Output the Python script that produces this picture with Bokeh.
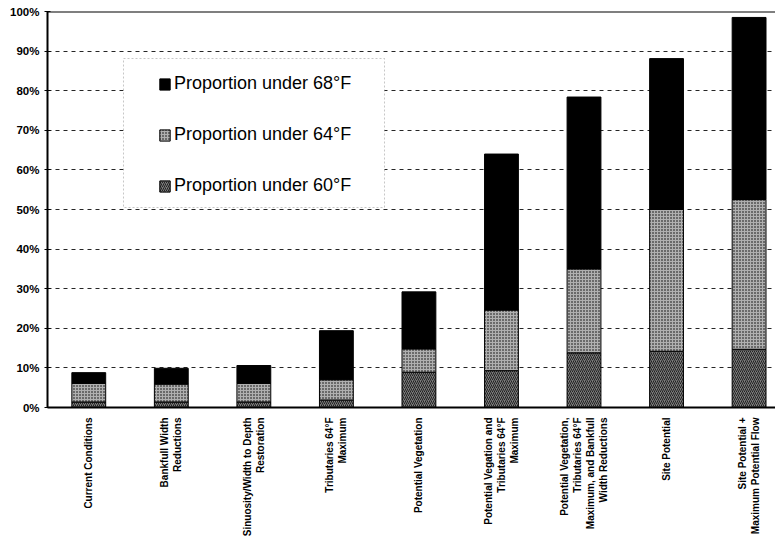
from bokeh.plotting import figure
from bokeh.models import (Range1d, FixedTicker, Legend, LegendItem, ColumnDataSource,
                          Span, BoxAnnotation)
from bokeh.embed import file_html
from bokeh.resources import INLINE
import math

categories = [
    "Current Conditions",
    "Bankfull Width\nReductions",
    "Sinuosity/Width to Depth\nRestoration",
    "Tributaries 64\u00b0F\nMaximum",
    "Potential Vegetation",
    "Potential Vegation and\nTributaries 64\u00b0F\nMaximum",
    "Potential Vegetation,\nTributaries 64\u00b0F\nMaximum, and Bankfull\nWidth Reductions",
    "Site Potential",
    "Site Potential +\nMaximum Potential Flow",
]
under_60 = [0.014, 0.014, 0.014, 0.019, 0.089, 0.093, 0.138, 0.142, 0.147]
under_64 = [0.061, 0.059, 0.061, 0.070, 0.148, 0.246, 0.350, 0.500, 0.525]
under_68 = [0.088, 0.099, 0.106, 0.194, 0.292, 0.640, 0.784, 0.881, 0.985]
y_ticks = [0.0, 0.1, 0.2, 0.3, 0.4, 0.5, 0.6, 0.7, 0.8, 0.9, 1.0]
y_tick_labels = ["0%", "10%", "20%", "30%", "40%", "50%", "60%", "70%", "80%", "90%", "100%"]
legend_labels = ["Proportion under 68\u00b0F", "Proportion under 64\u00b0F", "Proportion under 60\u00b0F"]

xs = [i + 0.5 for i in range(len(categories))]
zeros = [0.0] * len(categories)

p = figure(width=775, height=541, output_backend="svg", toolbar_location=None,
           x_range=Range1d(0, 8.82), y_range=Range1d(0, 1.0),
           min_border_left=47, min_border_right=0, min_border_top=11, min_border_bottom=134)
p.background_fill_color = "white"
p.border_fill_color = "white"
p.outline_line_color = None

src = ColumnDataSource(dict(x=xs, z=zeros, a=under_60, b=under_64, c=under_68))
bw = 0.41
r60 = p.vbar(x="x", bottom="z", top="a", width=bw, source=src, fill_color="#7a7a7a",
             hatch_pattern="right_diagonal_line", hatch_color="#222222", hatch_scale=4,
             hatch_weight=1, line_color="black", line_width=1)
r64 = p.vbar(x="x", bottom="a", top="b", width=bw, source=src, fill_color="#b0b0b0",
             hatch_pattern="dot", hatch_color="black", hatch_scale=3, hatch_weight=1.3,
             line_color="black", line_width=1)
r68 = p.vbar(x="x", bottom="b", top="c", width=bw, source=src, fill_color="black",
             line_color="black", line_width=1)

p.xgrid.visible = False
p.ygrid.ticker = FixedTicker(ticks=y_ticks)
p.ygrid.grid_line_color = "black"
p.ygrid.grid_line_dash = "4 4"
p.ygrid.grid_line_width = 1
p.ygrid.grid_line_alpha = 0.85

p.add_layout(Span(location=1.0, dimension="width", line_color="black", line_width=2))

p.yaxis.ticker = FixedTicker(ticks=y_ticks)
p.yaxis.major_label_overrides = {t: l for t, l in zip(y_ticks, y_tick_labels)}
p.yaxis.major_label_text_font = "Liberation Sans"
p.yaxis.major_label_text_font_style = "bold"
p.yaxis.major_label_text_font_size = "11.5px"
p.yaxis.major_label_text_color = "black"
p.yaxis.axis_line_width = 2
p.yaxis.major_tick_in = 3
p.yaxis.major_tick_out = 3
p.yaxis.minor_tick_line_color = None
p.yaxis.major_label_standoff = 5

p.xaxis.ticker = FixedTicker(ticks=xs)
p.xaxis.major_label_overrides = {x: c for x, c in zip(xs, categories)}
p.xaxis.major_label_orientation = math.pi / 2
p.xaxis.major_label_text_font = "Liberation Sans"
p.xaxis.major_label_text_font_style = "bold"
p.xaxis.major_label_text_font_size = "10px"
p.xaxis.major_label_text_color = "black"
p.xaxis.major_tick_line_color = None
p.xaxis.minor_tick_line_color = None
p.xaxis.axis_line_width = 2
p.xaxis.major_label_standoff = 4

# legend frame (screen units relative to the plot frame)
legend_box = BoxAnnotation(left=76, right=337, bottom=200, top=349,
                           left_units="screen", right_units="screen",
                           bottom_units="screen", top_units="screen",
                           fill_color="white", fill_alpha=1.0,
                           line_color="#444444", line_dash="2 2", line_width=1)
p.add_layout(legend_box)

legend = Legend(items=[LegendItem(label=legend_labels[0], renderers=[r68]),
                       LegendItem(label=legend_labels[1], renderers=[r64]),
                       LegendItem(label=legend_labels[2], renderers=[r60])],
                location=(111, 211))
legend.label_text_font = "Liberation Sans"
legend.label_text_font_size = "18px"
legend.label_text_color = "black"
legend.glyph_width = 13
legend.glyph_height = 14
legend.label_standoff = 3
legend.label_height = 20
legend.spacing = 30
legend.padding = 0
legend.margin = 0
legend.border_line_color = None
legend.background_fill_alpha = 0
p.add_layout(legend, "center")

open("out.html", "w").write(file_html(p, INLINE))
